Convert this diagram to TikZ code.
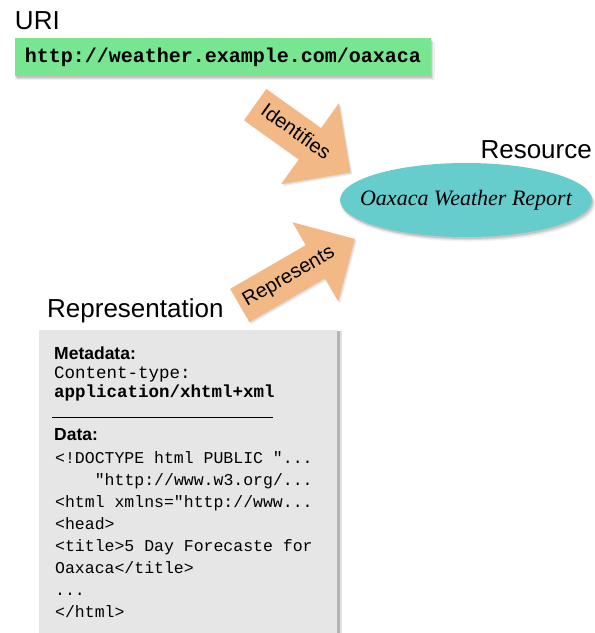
\documentclass[tikz,border=0pt]{standalone}
\usepackage{fontspec}
\setmainfont{Liberation Sans}
\setmonofont{Liberation Mono}
\newfontfamily\reportfont{Liberation Serif}
\usetikzlibrary{calc,shapes.geometric,shapes.arrows,shadows,positioning}
\definecolor{uriGreen}{RGB}{120,229,145}
\definecolor{resTeal}{RGB}{102,204,204}
\definecolor{arrowPeach}{RGB}{242,185,135}
\definecolor{repGray}{RGB}{230,230,230}
\newcommand{\tdots}{...}

\begin{document}
\begin{tikzpicture}[x=1pt, y=-1pt, every node/.style={inner sep=0pt}]
    \tikzset{Caption/.style = {font=\fontsize{26}{30}\selectfont, anchor=base west},
      Shade/.style = {drop shadow={opacity=0.12, shadow xshift=2pt, shadow yshift=-4pt, shadow scale=1.01},
        drop shadow={opacity=0.18, shadow xshift=2pt, shadow yshift=-3pt},
        drop shadow={opacity=0.25, shadow xshift=1pt, shadow yshift=-2pt}},
      UriBox/.style = {rectangle, fill=uriGreen, Shade,
        minimum width=416pt, minimum height=38pt,
        font=\fontsize{20}{24}\selectfont\ttfamily\bfseries},
      ResEllipse/.style = {ellipse, fill=resTeal, Shade,
        minimum width=252pt, minimum height=74pt,
        font=\fontsize{22}{26}\selectfont\reportfont\itshape},
      BigArrow/.style = {single arrow, fill=arrowPeach,
        drop shadow={opacity=0.15, shadow xshift=2pt, shadow yshift=-2pt},
        drop shadow={opacity=0.15, shadow xshift=1pt, shadow yshift=-1pt},
        single arrow tip angle=90, text height=14pt, text depth=4pt,
        inner xsep=2pt, inner ysep=10pt,
        font=\fontsize{20}{24}\selectfont},
      RepBox/.style = {rectangle, fill=repGray, anchor=north west,
        drop shadow={opacity=0.25, shadow xshift=5pt, shadow yshift=-1pt},
        drop shadow={opacity=0.45, shadow xshift=3pt, shadow yshift=-1pt},
        minimum width=298pt, minimum height=320pt},
      HeadText/.style = {anchor=base west, font=\fontsize{17.5}{20}\selectfont\bfseries},
      MetaText/.style = {anchor=base west, font=\fontsize{17.5}{20}\selectfont\ttfamily},
      CodeText/.style = {anchor=base west, font=\fontsize{16.5}{20}\selectfont\ttfamily}}
    \useasboundingbox (0,0) rectangle (595,633);
    \clip (0,0) rectangle (595,633);
    \node[UriBox] (uri) at (223,57) {http://weather.example.com/oaxaca};
    \node[Caption] (uriLabel) at ($(uri.north west)+(0,-8)$) {URI};
    \node[ResEllipse] (res) at (466,200) {\makebox[0pt]{Oaxaca Weather Report}};
    \node[Caption, anchor=base east] (resLabel) at (592,158) {Resource};
    \node[BigArrow, rotate=-35.5, minimum height=117pt,
      single arrow head extend=30.5pt] (identifies) at (295,133) {Identifies};
    \node[BigArrow, rotate=30, minimum height=133pt,
      single arrow head extend=26.5pt] (represents) at (289,277) {Represents};
    \node[RepBox] (rep) at (39,330) {};
    \node[Caption] (repLabel) at ($(rep.north west)+(8,-13)$) {Representation};
    \node[HeadText] (metaHead) at (54,359) {Metadata:};
    \node[MetaText] (metaType) at (54,378) {Content-type:};
    \node[MetaText, font=\fontsize{17.5}{20}\selectfont\ttfamily\bfseries]
      (metaValue) at (54,397) {application/xhtml+xml};
    \coordinate (sepL) at (52,417);
    \coordinate (sepR) at (273,417);
    \draw[line width=0.9pt] (sepL) -- (sepR);
    \node[HeadText] (dataHead) at (54,440) {Data:};
    \foreach \line [count=\i] in {{<!DOCTYPE html PUBLIC "\tdots},
        {\hphantom{xxxx}"http://www.w3.org/\tdots},
        {<html xmlns="http://www\tdots}, {<head>},
        {<title>5 Day Forecaste for}, {Oaxaca</title>},
        {\tdots}, {</html>}}
      \node[CodeText] (code\i) at (55,441+22*\i) {\line};
  \end{tikzpicture}
\end{document}
